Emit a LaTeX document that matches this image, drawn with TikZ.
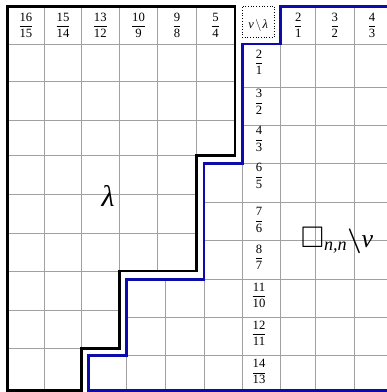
\documentclass[tikz,border=0pt]{standalone}
\usepackage{amsmath,amssymb}
\usepackage{fontspec}
\setmainfont{Liberation Serif}
\definecolor{nublue}{RGB}{12,12,170}
\definecolor{gridgray}{RGB}{160,160,160}
\newcommand{\fr}[2]{\ensuremath{\dfrac{\text{#1}}{\text{#2}}}}
\newcommand{\itx}[1]{\text{\itshape #1}}
\begin{document}
\begin{tikzpicture}[x=1bp,y=-1bp,
  gridline/.style={draw=gridgray, line width=0.9bp},
  lampath/.style={draw=black, line width=2.7bp, line join=miter},
  nupath/.style={draw=nublue, line width=2.7bp, line join=miter},
  fracl/.style={font=\fontsize{12.7}{15}\selectfont, inner sep=0pt},
  biglabel/.style={font=\fontsize{26}{30}\selectfont, inner sep=0pt, anchor=base},
  cornerbox/.style={draw=black, dotted, line width=0.7bp, anchor=north west,
    minimum width=32.3bp, minimum height=31bp, inner sep=0pt,
    text height=14.5bp, text depth=0bp, font=\fontsize{12.5}{14}\selectfont}]
\clip (0,0) rectangle (387,392);
% lambda region grid
\begin{scope}
  \clip (7.5,6.5) -- (235,6.5) -- (235,155.5) -- (196.2,155.5) -- (196.2,271) -- (119.3,271) -- (119.3,348.3) -- (81.5,348.3) -- (81.5,390.5) -- (7.5,390.5) -- cycle;
  \foreach \x in {44.7,81.3,119.3,157.7,196.2}
    \draw[gridline] (\x,0) -- (\x,392);
  \foreach \y in {44.3,81,120,155.5,194.5,233.3,271,310,348.3}
    \draw[gridline] (0,\y) -- (240,\y);
\end{scope}
% complement region grid
\begin{scope}
  \clip (280.7,6.5) -- (400,6.5) -- (400,390.5) -- (88.3,390.5) -- (88.3,355.7) -- (126.8,355.7) -- (126.8,279.3) -- (204,279.3) -- (204,163.3) -- (242.3,163.3) -- (242.3,44) -- (280.7,44) -- cycle;
  \foreach \x in {126.8,165.7,204,242.3,280.7,315.7,354}
    \draw[gridline] (\x,0) -- (\x,392);
  \foreach \y in {44,87.7,125.7,163.3,202.3,240.7,279.3,317.7,355.7}
    \draw[gridline] (80,\y) -- (400,\y);
\end{scope}
% boundaries
\draw[lampath] (7.5,6.5) -- (235,6.5) -- (235,155.5) -- (196.2,155.5) -- (196.2,271) -- (119.3,271) -- (119.3,348.3) -- (81.5,348.3) -- (81.5,390.5) -- (7.5,390.5) -- cycle;
\draw[nupath] (400,6.5) -- (280.7,6.5) -- (280.7,44) -- (242.3,44) -- (242.3,163.3) -- (204,163.3) -- (204,279.3) -- (126.8,279.3) -- (126.8,355.7) -- (88.3,355.7) -- (88.3,390.5) -- (400,390.5);
% header labels (lambda)
\node[fracl] (h1) at (25.9,25.5) {\fr{16}{15}};
\node[fracl] (h2) at (63,25.5) {\fr{15}{14}};
\node[fracl] (h3) at (100.3,25.5) {\fr{13}{12}};
\node[fracl] (h4) at (138.5,25.5) {\fr{10}{9}};
\node[fracl] (h5) at (177,25.5) {\fr{9}{8}};
\node[fracl] (h6) at (215.6,25.5) {\fr{5}{4}};
% corner
\node[cornerbox] (corner) at (241.7,5.7) {$\itx{ν}\mkern-2mu\setminus\mkern-2mu\itx{λ}$};
% header labels (right)
\node[fracl] (r1) at (298.2,25.5) {\fr{2}{1}};
\node[fracl] (r2) at (334.9,25.5) {\fr{3}{2}};
\node[fracl] (r3) at (372,25.5) {\fr{4}{3}};
% row labels
\node[fracl] (v1) at (259,62.5) {\fr{2}{1}};
\node[fracl] (v2) at (259,101.7) {\fr{3}{2}};
\node[fracl] (v3) at (259,139) {\fr{4}{3}};
\node[fracl] (v4) at (259,176) {\fr{6}{5}};
\node[fracl] (v5) at (259,220) {\fr{7}{6}};
\node[fracl] (v6) at (259,257) {\fr{8}{7}};
\node[fracl] (v7) at (259,295.5) {\fr{11}{10}};
\node[fracl] (v8) at (259,333.5) {\fr{12}{11}};
\node[fracl] (v9) at (259,371.7) {\fr{14}{13}};
% big labels
\node[biglabel, font=\fontsize{30}{34}\selectfont] (lam) at (108,206) {\itshape λ};
\node[biglabel] (cmp) at (337,247) {$\scalebox{1.15}{$\square$}_{\itx{n,n}}\boldsymbol{\backslash}\itx{ν}$};
\end{tikzpicture}
\end{document}
